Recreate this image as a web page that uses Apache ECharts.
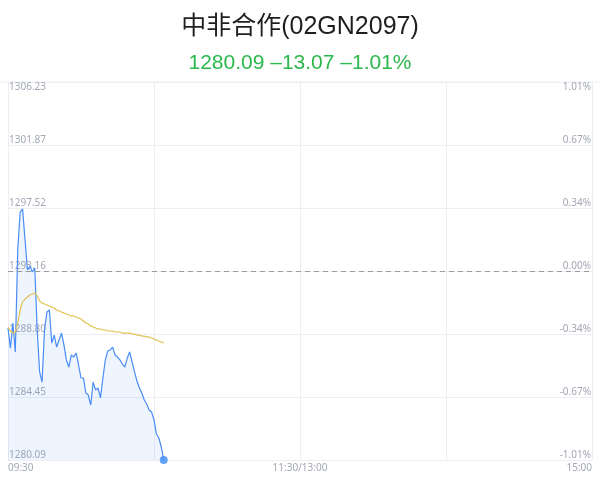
<!DOCTYPE html>
<html>
<head>
<meta charset="utf-8">
<script src="https://cdn.jsdelivr.net/npm/echarts@6/dist/echarts.min.js"></script>
<style>html,body{margin:0;padding:0;background:#fff;}#c{width:600px;height:483px;}</style>
</head>
<body>
<div id="c"></div>
<script>
var titleText = '中非合作(02GN2097)';
var subText = '1280.09 –13.07 –1.01%';
var preClose = 1293.16;
var yMin = 1280.09;
var yMax = 1306.23;
var priceTickLabels = ['1280.09', '1284.45', '1288.80', '1293.16', '1297.52', '1301.87', '1306.23'];
var pctTickLabels = ['-1.01%', '-0.67%', '-0.34%', '0.00%', '0.34%', '0.67%', '1.01%'];
var price = [1289.22, 1287.83, 1289.56, 1287.56, 1294.61, 1297.24, 1297.45, 1295.30, 1293.23, 1293.51,
  1293.09, 1293.37, 1289.08, 1286.18, 1285.48, 1289.08, 1290.32, 1290.46, 1288.18, 1288.73,
  1287.90, 1288.39, 1288.87, 1288.04, 1287.01, 1286.52, 1287.35, 1287.21, 1287.49, 1286.66,
  1285.76, 1285.76, 1284.72, 1284.58, 1283.89, 1285.48, 1284.93, 1285.07, 1284.38, 1285.76,
  1287.01, 1287.63, 1287.70, 1287.90, 1287.35, 1287.21, 1287.01, 1286.73, 1286.52, 1287.14,
  1287.56, 1286.87, 1286.18, 1285.55, 1285.07, 1284.72, 1284.24, 1283.96, 1283.55, 1283.41,
  1282.86, 1281.89, 1281.61, 1280.99, 1280.09];
var avg = [1289.29, 1289.01, 1288.87, 1288.94, 1289.56, 1290.46, 1291.02, 1291.22, 1291.36, 1291.50,
  1291.57, 1291.64, 1291.43, 1291.08, 1290.95, 1290.88, 1290.81, 1290.74, 1290.67, 1290.60,
  1290.46, 1290.39, 1290.32, 1290.26, 1290.19, 1290.12, 1290.05, 1290.05, 1289.98, 1289.91,
  1289.84, 1289.70, 1289.56, 1289.49, 1289.36, 1289.29, 1289.22, 1289.15, 1289.15, 1289.08,
  1289.08, 1289.01, 1289.01, 1289.01, 1288.94, 1288.94, 1288.94, 1288.87, 1288.87, 1288.87,
  1288.87, 1288.80, 1288.80, 1288.73, 1288.73, 1288.66, 1288.66, 1288.60, 1288.60, 1288.53,
  1288.46, 1288.39, 1288.32, 1288.25, 1288.18];

function pad(n){ return (n < 10 ? '0' : '') + n; }
var times = [];
for (var m = 9*60+30; m <= 11*60+30; m++) times.push(pad(Math.floor(m/60)) + ':' + pad(m%60));
for (var m2 = 13*60+1; m2 <= 15*60; m2++) times.push(pad(Math.floor(m2/60)) + ':' + pad(m2%60));

var last = price.length - 1;
var labelColor = '#a3a8b5';
var gridColor = '#eceef3';
var chart = echarts.init(document.getElementById('c'));
chart.setOption({
  animation: false,
  title: [
    {text: titleText, left: 'center', top: 10, textStyle: {fontFamily: 'Liberation Sans, Noto Sans CJK SC', fontSize: 25, fontWeight: 'normal', color: '#1f1f1f'}},
    {text: subText, left: 'center', top: 48, textStyle: {fontFamily: 'Liberation Sans', fontSize: 21, fontWeight: 'normal', color: '#2db84d'}}
  ],
  graphic: [{type: 'line', shape: {x1: 0, y1: 82, x2: 600, y2: 82}, style: {stroke: gridColor, lineWidth: 1}}],
  grid: {left: 8, right: 8, top: 82, bottom: 23},
  xAxis: {
    type: 'category', data: times, boundaryGap: false,
    axisLine: {show: false}, axisTick: {show: false},
    splitLine: {show: true, interval: 59, lineStyle: {color: gridColor, width: 1}},
    axisLabel: {
      interval: function(i){ return i === 0 || i === 120 || i === 240; },
      formatter: function(v, i){ return i === 120 ? '11:30/13:00' : v; },
      alignMinLabel: 'left', alignMaxLabel: 'right',
      color: labelColor, fontSize: 10, margin: 3, fontFamily: 'Noto Sans'
    }
  },
  yAxis: [
    {type: 'value', min: yMin, max: yMax, show: false},
    {type: 'value', min: 0, max: 6, interval: 1, position: 'left',
      axisLine: {show: false}, axisTick: {show: false},
      splitLine: {show: true, lineStyle: {color: gridColor, width: 1}},
      axisLabel: {inside: true, margin: 1, verticalAlign: 'bottom', verticalAlignMaxLabel: 'top',
        color: labelColor, fontSize: 10, fontFamily: 'Noto Sans',
        formatter: function(v){ return priceTickLabels[v]; }}},
    {type: 'value', min: 0, max: 6, interval: 1, position: 'right',
      axisLine: {show: false}, axisTick: {show: false}, splitLine: {show: false},
      axisLabel: {inside: true, margin: 1, verticalAlign: 'bottom', verticalAlignMaxLabel: 'top',
        color: labelColor, fontSize: 10, fontFamily: 'Noto Sans',
        formatter: function(v){ return pctTickLabels[v]; }}}
  ],
  series: [
    {type: 'line', yAxisIndex: 0, data: price, symbol: 'none', showSymbol: false,
      lineStyle: {color: '#4a8cf7', width: 1.2},
      areaStyle: {color: 'rgba(74,140,247,0.12)'},
      markLine: {silent: true, symbol: 'none', label: {show: false},
        lineStyle: {color: '#9a9a9a', type: [5, 4], width: 1},
        data: [{yAxis: preClose}]}},
    {type: 'line', yAxisIndex: 0, data: avg, symbol: 'none', showSymbol: false,
      lineStyle: {color: '#e0c24e', width: 1.2}},
    {type: 'scatter', yAxisIndex: 0, clip: false, symbol: 'circle', symbolSize: 8,
      itemStyle: {color: '#3d8bf6'}, z: 5,
      data: [[times[last], price[last]]]}
  ]
});
</script>
</body>
</html>
